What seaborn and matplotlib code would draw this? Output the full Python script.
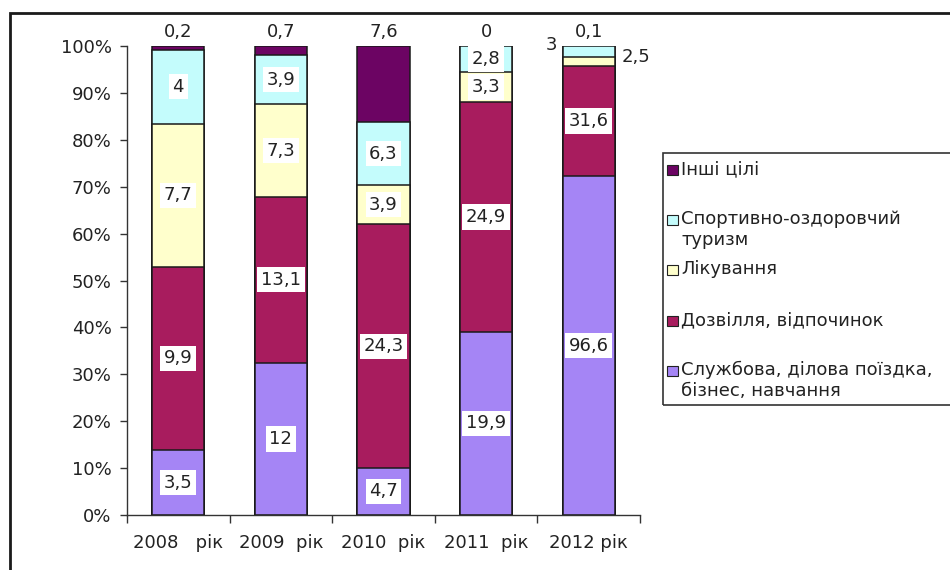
import numpy as np
import pandas as pd
import matplotlib
matplotlib.use("Agg")
import matplotlib.pyplot as plt
from matplotlib.patches import Rectangle
import seaborn as sns

years = ['2008', '2009', '2010', '2011', '2012']
year_labels = ['2008   рік', '2009  рік', '2010  рік', '2011  рік', '2012 рік']
series_names = ['Службова, ділова поїздка,\nбізнес, навчання',
                'Дозвілля, відпочинок',
                'Лікування',
                'Спортивно-оздоровчий\nтуризм',
                'Інші цілі']
business = [3.5, 12, 4.7, 19.9, 96.6]
leisure = [9.9, 13.1, 24.3, 24.9, 31.6]
treatment = [7.7, 7.3, 3.9, 3.3, 2.5]
sport = [4, 3.9, 6.3, 2.8, 3]
other = [0.2, 0.7, 7.6, 0, 0.1]
value_labels = [
    ['3,5', '12', '4,7', '19,9', '96,6'],
    ['9,9', '13,1', '24,3', '24,9', '31,6'],
    ['7,7', '7,3', '3,9', '3,3', '2,5'],
    ['4', '3,9', '6,3', '2,8', '3'],
    ['0,2', '0,7', '7,6', '0', '0,1'],
]
colors = ['#A585F5', '#A81C5E', '#FFFFCC', '#C4FCFC', '#6C0463']
ytick_vals = [0, 10, 20, 30, 40, 50, 60, 70, 80, 90, 100]

sns.set_theme(style='white')
plt.rcParams['font.family'] = ['DejaVu Sans']
FS = 13
TC = '#222222'

data = np.array([business, leisure, treatment, sport, other], dtype=float)
totals = data.sum(axis=0)
pct = data / totals * 100
cum = np.cumsum(pct, axis=0)
bottoms = cum - pct

fig = plt.figure(figsize=(9.5, 5.7), dpi=100)
ax = fig.add_axes([127/950, 1-515/570, 513/950, 469/570])

for i in range(4, -1, -1):
    df = pd.DataFrame({'year': years, 'top': cum[i]})
    sns.barplot(data=df, x='year', y='top', color=colors[i], width=0.51,
                saturation=1, edgecolor='#1a1a1a', linewidth=1.1,
                errorbar=None, ax=ax, zorder=2)

ax.set_xlim(-0.5, 4.5)
ax.set_ylim(0, 100)
ax.set_xlabel('')
ax.set_ylabel('')
ax.set_yticks(ytick_vals)
ax.set_yticklabels([f'{v}%' for v in ytick_vals], fontsize=FS, color=TC)
ax.set_xticks(range(5))
ax.set_xticklabels(year_labels, fontsize=FS, color=TC)
ax.set_xticks(np.arange(-0.5, 5, 1), minor=True)
ax.tick_params(axis='x', which='major', length=0, pad=14)
ax.tick_params(axis='x', which='minor', length=6, width=1, color='#333333', direction='out', bottom=True)
ax.tick_params(axis='y', which='major', length=5, width=1, color='#333333', direction='out', left=True, pad=6)
for s in ['top', 'right']:
    ax.spines[s].set_visible(False)
for s in ['left', 'bottom']:
    ax.spines[s].set_color('#333333')
    ax.spines[s].set_linewidth(1)
ax.grid(False)

box = dict(boxstyle='square,pad=0.2', fc='white', ec='none')
for j in range(5):
    for i in range(4):
        if j == 4 and i in (2, 3):
            continue
        ymid = bottoms[i, j] + pct[i, j] / 2
        ax.text(j, ymid, value_labels[i][j], ha='center', va='center',
                fontsize=FS, color=TC, bbox=box, zorder=5)
    ax.text(j, 101.0, value_labels[4][j], ha='center', va='bottom',
            fontsize=FS, color=TC, clip_on=False)

# outside labels for 2012 small segments
ax.annotate(value_labels[3][4], xy=(4, cum[3, 4]), xytext=(-27, 1),
            textcoords='offset points', ha='center', va='center',
            fontsize=FS, color=TC, annotation_clip=False)
ax.annotate(value_labels[2][4], xy=(4, cum[2, 4]), xytext=(34, 0),
            textcoords='offset points', ha='center', va='center',
            fontsize=FS, color=TC, annotation_clip=False)

# outer frame
fig.add_artist(Rectangle((10/950, -0.05), 1.2, 1.05 - 13/570,
                         transform=fig.transFigure, fill=False,
                         ec='#1a1a1a', lw=2, clip_on=False))

# legend box
lx0, ly0, lx1, ly1 = 663, 153, 965, 405
fig.add_artist(Rectangle((lx0/950, 1-ly1/570), (lx1-lx0)/950, (ly1-ly0)/570,
                         transform=fig.transFigure, fill=False,
                         ec='#333333', lw=1.2, clip_on=False))
entries = [(4, 170), (3, 220), (2, 270), (1, 321), (0, 371)]
for idx, ypx in entries:
    fig.add_artist(Rectangle((667/950, 1-(ypx+5)/570), 11/950, 10/570,
                             transform=fig.transFigure, fc=colors[idx],
                             ec='#222222', lw=0.8))
    fig.text(681/950, 1-(ypx-10)/570, series_names[idx], ha='left', va='top',
             fontsize=FS, color=TC, linespacing=1.2)

fig.savefig('out.png', dpi=100)
